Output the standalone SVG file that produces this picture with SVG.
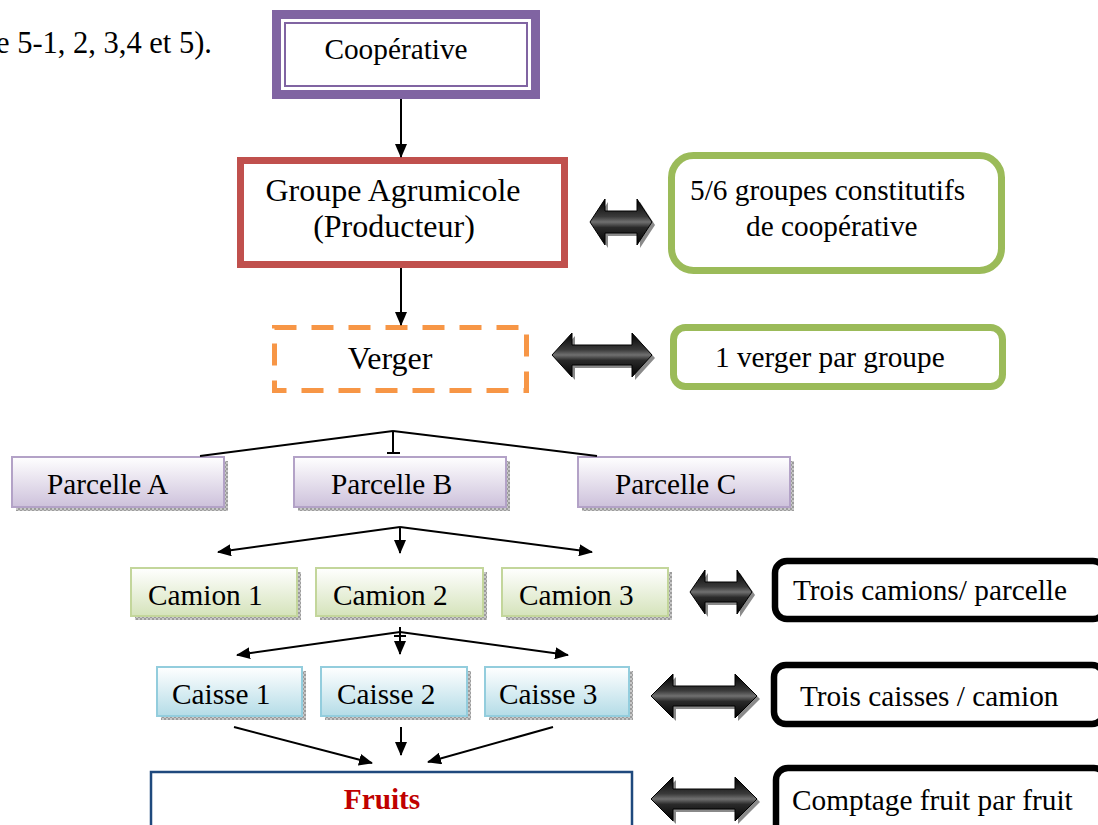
<svg xmlns="http://www.w3.org/2000/svg" width="1098" height="825" viewBox="0 0 1098 825">
<defs>
<style>
text{font-family:"Liberation Serif","Times New Roman",serif;font-size:29.3px;fill:#000}
.c{text-anchor:middle}
.big{font-size:32px}
.con{stroke:#000;stroke-width:2;fill:none}
.shadow{fill:url(#hatch)}
.darr{fill:url(#dg);stroke:#000;stroke-width:1}
.dsh{fill:#8a8a8a}
.blk{fill:#fff;stroke:#000;stroke-width:6.5}
.grn{fill:#fff;stroke:#9BBB59;stroke-width:7}
</style>
<marker id="ah" viewBox="0 0 14 12" refX="13" refY="6" markerWidth="14" markerHeight="12" markerUnits="userSpaceOnUse" orient="auto">
<path d="M0,0 L14,6 L0,12 Z" fill="#000"/>
</marker>
<linearGradient id="dg" x1="0" y1="0" x2="0" y2="1">
<stop offset="0" stop-color="#000"/>
<stop offset="0.38" stop-color="#3a3a3a"/>
<stop offset="0.5" stop-color="#707070"/>
<stop offset="0.62" stop-color="#2a2a2a"/>
<stop offset="1" stop-color="#000"/>
</linearGradient>
<linearGradient id="gP" x1="0" y1="0" x2="0" y2="1">
<stop offset="0" stop-color="#FFFFFF"/>
<stop offset="1" stop-color="#CDC1DB"/>
</linearGradient>
<linearGradient id="gC" x1="0" y1="0" x2="0" y2="1">
<stop offset="0" stop-color="#FFFFFF"/>
<stop offset="1" stop-color="#D5E3BB"/>
</linearGradient>
<linearGradient id="gK" x1="0" y1="0" x2="0" y2="1">
<stop offset="0" stop-color="#FFFFFF"/>
<stop offset="1" stop-color="#B4DCE7"/>
</linearGradient>
<pattern id="hatch" width="4" height="4" patternUnits="userSpaceOnUse">
<rect width="4" height="4" fill="#9c9c9c"/>
<rect width="2" height="2" fill="#c8c8c8"/>
<rect x="2" y="2" width="2" height="2" fill="#c8c8c8"/>
</pattern>
</defs>

<text x="-4" y="53" style="font-size:30.5px">e 5-1, 2, 3,4 et 5).</text>

<g id="cooperative">
<rect x="276.5" y="14.5" width="259" height="80" fill="#fff" stroke="#8064A2" stroke-width="9"/>
<rect x="285" y="23" width="242" height="63" fill="none" stroke="#8064A2" stroke-width="2"/>
<text class="c" x="396" y="59">Coopérative</text>
</g>

<g id="groupe">
<rect x="240.5" y="160.5" width="324" height="104" fill="#fff" stroke="#C0504D" stroke-width="7"/>
<text class="c big" x="393" y="201">Groupe Agrumicole</text>
<text class="c big" x="394" y="237">(Producteur)</text>
</g>

<g id="note-groupes">
<rect x="671.5" y="155.5" width="330" height="115" rx="22" class="grn"/>
<text x="690" y="200">5/6 groupes constitutifs</text>
<text x="746" y="236">de coopérative</text>
</g>

<g id="verger">
<rect x="274.5" y="327.5" width="252" height="63" fill="#fff" stroke="#F79646" stroke-width="5" stroke-dasharray="22,15"/>
<text class="c big" x="390" y="369">Verger</text>
</g>

<g id="note-verger">
<rect x="673.5" y="327.5" width="329" height="59" rx="12" class="grn"/>
<text x="715" y="367">1 verger par groupe</text>
</g>

<g id="parcelleA">
<rect x="16" y="461" width="212" height="50" class="shadow"/>
<rect x="12" y="457" width="212" height="50" fill="url(#gP)" stroke="#B3A2C7" stroke-width="2"/>
<text x="47" y="494">Parcelle A</text>
</g>
<g id="parcelleB">
<rect x="298" y="461" width="212" height="50" class="shadow"/>
<rect x="294" y="457" width="212" height="50" fill="url(#gP)" stroke="#B3A2C7" stroke-width="2"/>
<text x="331" y="494">Parcelle B</text>
</g>
<g id="parcelleC">
<rect x="582" y="461" width="212" height="50" class="shadow"/>
<rect x="578" y="457" width="212" height="50" fill="url(#gP)" stroke="#B3A2C7" stroke-width="2"/>
<text x="615" y="494">Parcelle C</text>
</g>

<g id="camion1">
<rect x="135" y="572" width="166" height="48" class="shadow"/>
<rect x="131" y="568" width="166" height="48" fill="url(#gC)" stroke="#C3D69B" stroke-width="2"/>
<text x="148" y="605">Camion 1</text>
</g>
<g id="camion2">
<rect x="320" y="572" width="167" height="48" class="shadow"/>
<rect x="316" y="568" width="167" height="48" fill="url(#gC)" stroke="#C3D69B" stroke-width="2"/>
<text x="333" y="605">Camion 2</text>
</g>
<g id="camion3">
<rect x="506" y="572" width="166" height="48" class="shadow"/>
<rect x="502" y="568" width="166" height="48" fill="url(#gC)" stroke="#C3D69B" stroke-width="2"/>
<text x="519" y="605">Camion 3</text>
</g>

<g id="note-camions">
<rect x="775" y="561" width="330" height="58" rx="12" class="blk"/>
<text x="793" y="600">Trois camions/ parcelle</text>
</g>

<g id="caisse1">
<rect x="161" y="671" width="145" height="49" class="shadow"/>
<rect x="157" y="667" width="145" height="49" fill="url(#gK)" stroke="#93CDDD" stroke-width="2"/>
<text x="172" y="704">Caisse 1</text>
</g>
<g id="caisse2">
<rect x="325" y="671" width="146" height="49" class="shadow"/>
<rect x="321" y="667" width="146" height="49" fill="url(#gK)" stroke="#93CDDD" stroke-width="2"/>
<text x="337" y="704">Caisse 2</text>
</g>
<g id="caisse3">
<rect x="489" y="671" width="144" height="49" class="shadow"/>
<rect x="485" y="667" width="144" height="49" fill="url(#gK)" stroke="#93CDDD" stroke-width="2"/>
<text x="499" y="704">Caisse 3</text>
</g>

<g id="note-caisses">
<rect x="774" y="665" width="330" height="59" rx="12" class="blk"/>
<text x="800" y="706">Trois caisses / camion</text>
</g>

<g id="fruits">
<rect x="151" y="772" width="481" height="70" fill="#fff" stroke="#1F497D" stroke-width="2.5"/>
<text class="c" x="382" y="809" style="font-weight:bold;fill:#C00000">Fruits</text>
</g>

<g id="note-fruits">
<rect x="776" y="768" width="330" height="70" rx="12" class="blk"/>
<text x="792" y="810">Comptage fruit par fruit</text>
</g>

<g id="double-arrows">
<g transform="translate(3,3)" class="dsh">
<path d="M590,222 L605,199 L605,211 L637,211 L637,199 L652,222 L637,245 L637,233 L605,233 L605,245 Z"/>
<path d="M552,355 L572,333 L572,345 L632,345 L632,333 L652,355 L632,377 L632,365 L572,365 L572,377 Z"/>
<path d="M690,592 L705,570 L705,582 L737,582 L737,570 L752,592 L737,614 L737,602 L705,602 L705,614 Z"/>
<path d="M651,696 L673,674 L673,686 L735,686 L735,674 L757,696 L735,718 L735,706 L673,706 L673,718 Z"/>
<path d="M651,799 L673,777 L673,789 L735,789 L735,777 L757,799 L735,821 L735,809 L673,809 L673,821 Z"/>
</g>
<path class="darr" d="M590,222 L605,199 L605,211 L637,211 L637,199 L652,222 L637,245 L637,233 L605,233 L605,245 Z"/>
<path class="darr" d="M552,355 L572,333 L572,345 L632,345 L632,333 L652,355 L632,377 L632,365 L572,365 L572,377 Z"/>
<path class="darr" d="M690,592 L705,570 L705,582 L737,582 L737,570 L752,592 L737,614 L737,602 L705,602 L705,614 Z"/>
<path class="darr" d="M651,696 L673,674 L673,686 L735,686 L735,674 L757,696 L735,718 L735,706 L673,706 L673,718 Z"/>
<path class="darr" d="M651,799 L673,777 L673,789 L735,789 L735,777 L757,799 L735,821 L735,809 L673,809 L673,821 Z"/>
</g>

<g id="connectors">
<line class="con" x1="401" y1="99" x2="401" y2="157" marker-end="url(#ah)"/>
<line class="con" x1="401" y1="268" x2="401" y2="325" marker-end="url(#ah)"/>
<line class="con" x1="393" y1="431" x2="200" y2="456"/>
<line class="con" x1="393" y1="431" x2="597" y2="456"/>
<line class="con" x1="393" y1="431" x2="393" y2="453"/>
<line class="con" x1="387" y1="453" x2="400" y2="453"/>
<line class="con" x1="400" y1="527" x2="218" y2="552" marker-end="url(#ah)"/>
<line class="con" x1="400" y1="527" x2="400" y2="553" marker-end="url(#ah)"/>
<line class="con" x1="400" y1="527" x2="592" y2="552" marker-end="url(#ah)"/>
<line class="con" x1="400" y1="632" x2="237" y2="655" marker-end="url(#ah)"/>
<line class="con" x1="400" y1="627" x2="400" y2="654" marker-end="url(#ah)"/>
<line class="con" x1="394" y1="636" x2="406" y2="636"/>
<line class="con" x1="400" y1="632" x2="568" y2="655" marker-end="url(#ah)"/>
<line class="con" x1="234" y1="727" x2="372" y2="763" marker-end="url(#ah)"/>
<line class="con" x1="401" y1="727" x2="401" y2="755" marker-end="url(#ah)"/>
<line class="con" x1="553" y1="727" x2="428" y2="762" marker-end="url(#ah)"/>
</g>
</svg>
